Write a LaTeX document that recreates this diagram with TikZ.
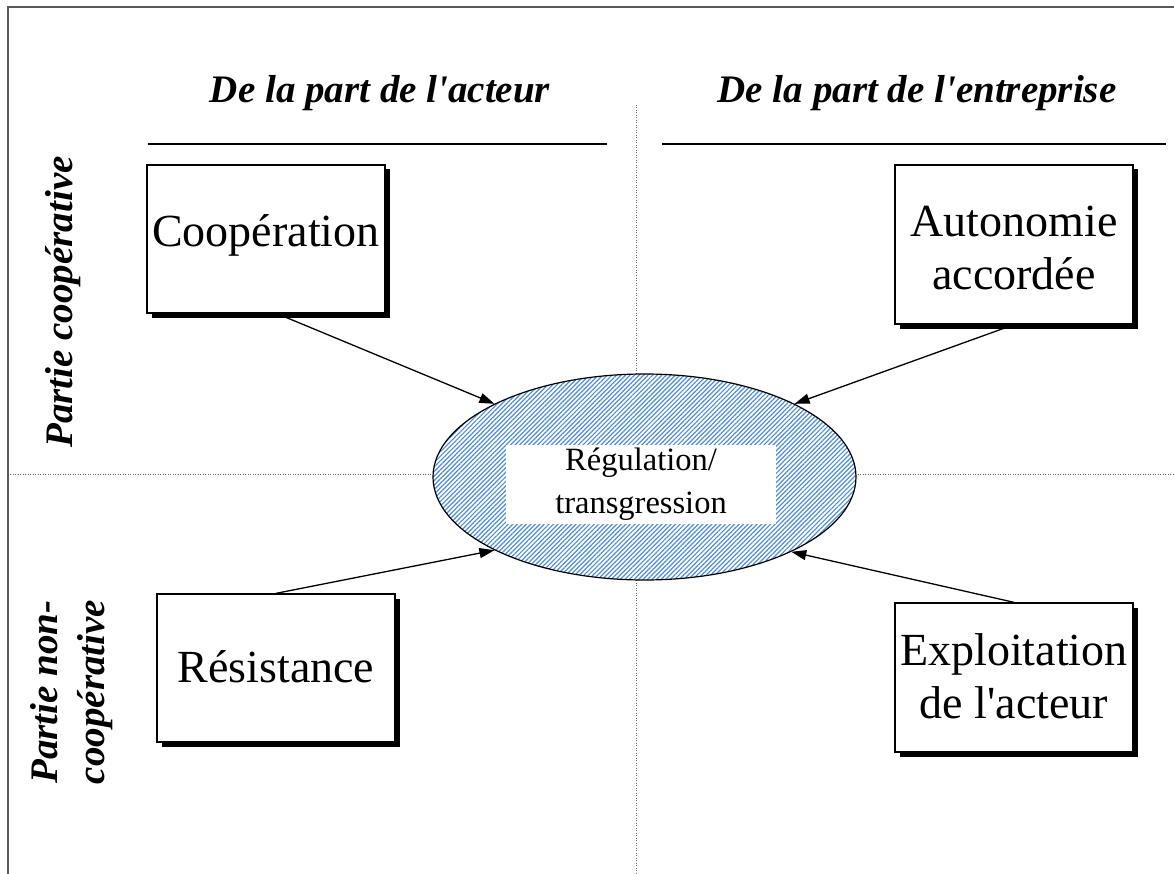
\documentclass[tikz,border=0pt]{standalone}
\usepackage{fontspec}
\setmainfont{Liberation Serif}
\usetikzlibrary{shapes.geometric,arrows.meta,patterns.meta,shadows}
\definecolor{hatch}{RGB}{80,140,215}
\definecolor{framecol}{RGB}{90,90,90}
\tikzset{
 boxstyle/.style={draw=black, line width=1.3pt, fill=white, rectangle, inner sep=0pt,
   drop shadow={shadow xshift=4.5pt, shadow yshift=-4.5pt, opacity=1, fill=black}},
 big/.style={font=\fontsize{46}{53}\selectfont, inner sep=0pt, anchor=base},
 head/.style={font=\fontsize{39}{45}\selectfont\bfseries\itshape, inner sep=0pt, anchor=base},
 regtext/.style={font=\fontsize{32.5}{40}\selectfont, inner sep=0pt, anchor=base},
 arr/.style={line width=1.3pt, -{Triangle[length=15pt,width=10pt]}},
 dots/.style={draw=gray!80!black, line width=1pt, dash pattern=on 1pt off 1.5pt},
 rule/.style={draw=black, line width=1.2pt},
}
\begin{document}
\begin{tikzpicture}[x=1pt,y=-1pt]
\useasboundingbox (0,0) rectangle (1174,874);
% frame
\coordinate (fbl) at (8,874);
\coordinate (ftl) at (8,7);
\coordinate (ftr) at (1174,7);
\draw[framecol, line width=2pt] (fbl) -- (ftl) -- (ftr);
% dotted axes
\coordinate (vt) at (636,105);
\coordinate (vb) at (636,874);
\coordinate (hl) at (10,474);
\coordinate (hr) at (1174,474);
\draw[dots] (vt) -- (vb);
\draw[dots] (hl) -- (hr);
% headers
\node[head] (h1) at (380,103) {De la part de l\textquotesingle acteur};
\node[head] (h2) at (917,103) {De la part de l\textquotesingle entreprise};
\coordinate (r1a) at (148,144);
\coordinate (r1b) at (607,144);
\coordinate (r2a) at (662,144);
\coordinate (r2b) at (1166,144);
\draw[rule] (r1a) -- (r1b);
\draw[rule] (r2a) -- (r2b);
% side labels
\node[head, rotate=90] (s1) at (72,302) {Partie coopérative};
\node[head, rotate=90] (s2a) at (57,692) {Partie non-};
\node[head, rotate=90] (s2b) at (104,692) {coopérative};
% boxes
\node[boxstyle, minimum width=238pt, minimum height=148pt] (coop) at (266,239) {};
\node[boxstyle, minimum width=238pt, minimum height=159pt] (auto) at (1014,244.5) {};
\node[boxstyle, minimum width=238pt, minimum height=148pt] (res) at (276,668) {};
\node[boxstyle, minimum width=238pt, minimum height=149pt] (expl) at (1014,677.5) {};
\node[big] (coopT) at (266,247) {Coopération};
\node[big] (autoT1) at (1014,237) {Autonomie};
\node[big] (autoT2) at (1014,290) {accordée};
\node[big] (resT) at (276,682) {Résistance};
\node[big] (explT1) at (1014,665) {Exploitation};
\node[big] (explT2) at (1014,718) {de l\textquotesingle acteur};
% ellipse
\node[ellipse, draw=black, line width=1.2pt, minimum width=423pt, minimum height=206pt, inner sep=0pt,
  preaction={fill=white}, pattern={Lines[angle=45,distance=3.2pt,line width=1.2pt]}, pattern color=hatch]
  (reg) at (644.5,477) {};
\node[fill=white, minimum width=270pt, minimum height=79pt, inner sep=0pt] (regbox) at (641,484.5) {};
\node[regtext] (regT1) at (641,470) {Régulation/};
\node[regtext] (regT2) at (641,513) {transgression};
% arrows
\draw[arr] ([xshift=11pt]coop.south) -- (reg.154);
\draw[arr] (auto.south) -- (reg.26);
\draw[arr] (res.north) -- (reg.206.5);
\draw[arr] (expl.north) -- (reg.333.5);
\end{tikzpicture}
\end{document}
